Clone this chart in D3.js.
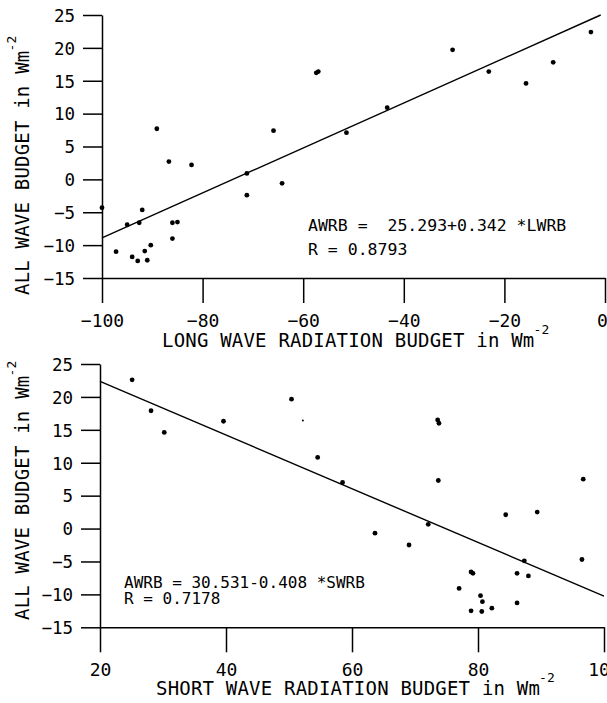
<!DOCTYPE html>
<html>
<head>
<meta charset="utf-8">
<script src="https://cdn.jsdelivr.net/npm/d3@7"></script>
<style>
  body { margin: 0; background: #fff; }
  svg { display: block; }
  text { font-family: "DejaVu Sans Mono", "Liberation Mono", monospace; fill: #000; }
  .axis path, .axis line { stroke: #000; stroke-width: 1.5px; }
</style>
</head>
<body>
<main></main>
<script>
(function(){
  //long wave panel
  const lwrb = [-89.1, -86.7, -82.2, -65.9, -71.2, -57.4, -57.0, -51.4, -43.3, -30.3, -23.1, -15.7, -10.3, -2.8,
    -100, -97.2, -95.0, -94.0, -92.9, -92.6, -92.0, -91.5, -91.0, -90.3, -86.0, -85.0, -86.0, -71.2, -64.2];
  const awrbLw = [7.7, 2.7, 2.2, 7.4, 0.9, 16.2, 16.4, 7.1, 10.9, 19.7, 16.4, 14.6, 17.8, 22.4,
    -4.3, -11.0, -6.9, -11.8, -12.4, -6.6, -4.65, -10.9, -12.3, -10.0, -6.6, -6.5, -9.0, -2.4, -0.6];

  //short wave panel
  const swrb = [25.1, 28.1, 30.2, 39.6, 50.4, 54.55, 58.5, 73.6, 73.8, 73.7, 96.7, 84.4, 89.4, 63.65, 72.1,
    69.05, 78.9, 79.2, 87.35, 86.2, 88.0, 96.5, 77.0, 80.4, 80.7, 82.2, 78.9, 80.6, 86.2];
  const awrbSw = [22.6, 17.9, 14.6, 16.3, 19.65, 10.8, 7.0, 16.5, 16.0, 7.3, 7.5, 2.1, 2.5, -0.7, 0.65,
    -2.5, -6.6, -6.8, -4.9, -6.8, -7.2, -4.7, -9.1, -10.2, -11.1, -12.1, -12.5, -12.6, -11.3];
  //one faint speck in the scan
  const faintSw = [[52.2, 16.4]];

  const yTicks = [-15, -10, -5, 0, 5, 10, 15, 20, 25];
  const lwTicks = [-100, -80, -60, -40, -20, 0];
  const swTicks = [20, 40, 60, 80, 100];

  //regression fits [intercept, slope]
  const lwFit = [25.293, 0.342];
  const swFit = [30.531, -0.408];

  const width = 607, height = 703;

  const svg = d3.select("main")
    .append("svg")
    .attr("width", width)
    .attr("height", height);

  drawPanel({
    xs: lwrb, ys: awrbLw, faint: [],
    xDomain: [-100, 0], xRange: [102, 605],
    yRange: [278, 15],
    xTicks: lwTicks,
    fit: lwFit,
    xTitle: "LONG WAVE RADIATION BUDGET in Wm", xTitleX: 162, xTitleY: 347,
    yTitleStart: 295,
    eq: ["AWRB =  25.293+0.342 *LWRB", "R = 0.8793"], eqX: 308, eqY: [231, 255], eqSize: 16.5
  });

  drawPanel({
    xs: swrb, ys: awrbSw, faint: faintSw,
    xDomain: [20, 100], xRange: [100, 604],
    yRange: [627.3, 364],
    xTicks: swTicks,
    fit: swFit,
    xTitle: "SHORT WAVE RADIATION BUDGET in Wm", xTitleX: 156, xTitleY: 695,
    yTitleStart: 620,
    eq: ["AWRB = 30.531-0.408 *SWRB", "R = 0.7178"], eqX: 124, eqY: [588, 604], eqSize: 16
  });

  function drawPanel(c){
    const x = d3.scaleLinear().domain(c.xDomain).range(c.xRange);
    const y = d3.scaleLinear().domain([-15, 25]).range(c.yRange);

    //y axis with ticks pointing left
    const yAxis = svg.append("g")
      .attr("class", "axis")
      .attr("transform", "translate(" + c.xRange[0] + ",0)")
      .call(d3.axisLeft(y).tickValues(yTicks).tickSizeInner(19).tickSizeOuter(0).tickPadding(8));
    yAxis.selectAll("text")
      .attr("dy", "0.36em")
      .style("font-size", "17.5px");

    //x axis sits on -15 with long ticks hanging below
    const xAxis = svg.append("g")
      .attr("class", "axis")
      .attr("transform", "translate(0," + y(-15) + ")")
      .call(d3.axisBottom(x).tickValues(c.xTicks).tickSizeInner(25).tickSizeOuter(0));
    xAxis.selectAll("text")
      .attr("y", 49)
      .attr("dy", 0)
      .attr("dx", d => d == 0 ? -3 : 0)
      .style("font-size", "18px");

    //regression line, cut where it leaves the frame
    const f = v => c.fit[0] + c.fit[1] * v;
    let x0 = c.xDomain[0], x1 = c.xDomain[1];
    if (f(x1) > 25) x1 = (25 - c.fit[0]) / c.fit[1];
    svg.append("line")
      .attr("x1", x(x0)).attr("y1", y(f(x0)))
      .attr("x2", x(x1)).attr("y2", y(f(x1)))
      .attr("stroke", "#000")
      .attr("stroke-width", 1.4);

    //points
    svg.selectAll(null)
      .data(d3.zip(c.xs, c.ys))
      .enter()
      .append("circle")
      .attr("cx", d => x(d[0]))
      .attr("cy", d => y(d[1]))
      .attr("r", 2.4)
      .attr("fill", "#000");

    svg.selectAll(null)
      .data(c.faint)
      .enter()
      .append("circle")
      .attr("cx", d => x(d[0]))
      .attr("cy", d => y(d[1]))
      .attr("r", 1)
      .attr("fill", "#000");

    //axis titles
    const xt = svg.append("text")
      .attr("x", c.xTitleX)
      .attr("y", c.xTitleY)
      .style("font-size", "19px")
      .style("letter-spacing", "0.2px")
      .text(c.xTitle);
    xt.append("tspan")
      .attr("dx", -1)
      .attr("dy", -13)
      .style("font-size", "13px")
      .text("-2");

    const yt = svg.append("text")
      .attr("transform", "translate(29," + c.yTitleStart + ") rotate(-90)")
      .style("font-size", "19px")
      .style("letter-spacing", "0.2px")
      .text("ALL WAVE BUDGET in Wm");
    yt.append("tspan")
      .attr("dx", -1)
      .attr("dy", -13)
      .style("font-size", "13px")
      .text("-2");

    //fit equation
    svg.selectAll(null)
      .data(c.eq)
      .enter()
      .append("text")
      .attr("x", c.eqX)
      .attr("y", (d, i) => c.eqY[i])
      .style("font-size", c.eqSize + "px")
      .style("white-space", "pre")
      .text(d => d);
  };
})();
</script>
</body>
</html>
